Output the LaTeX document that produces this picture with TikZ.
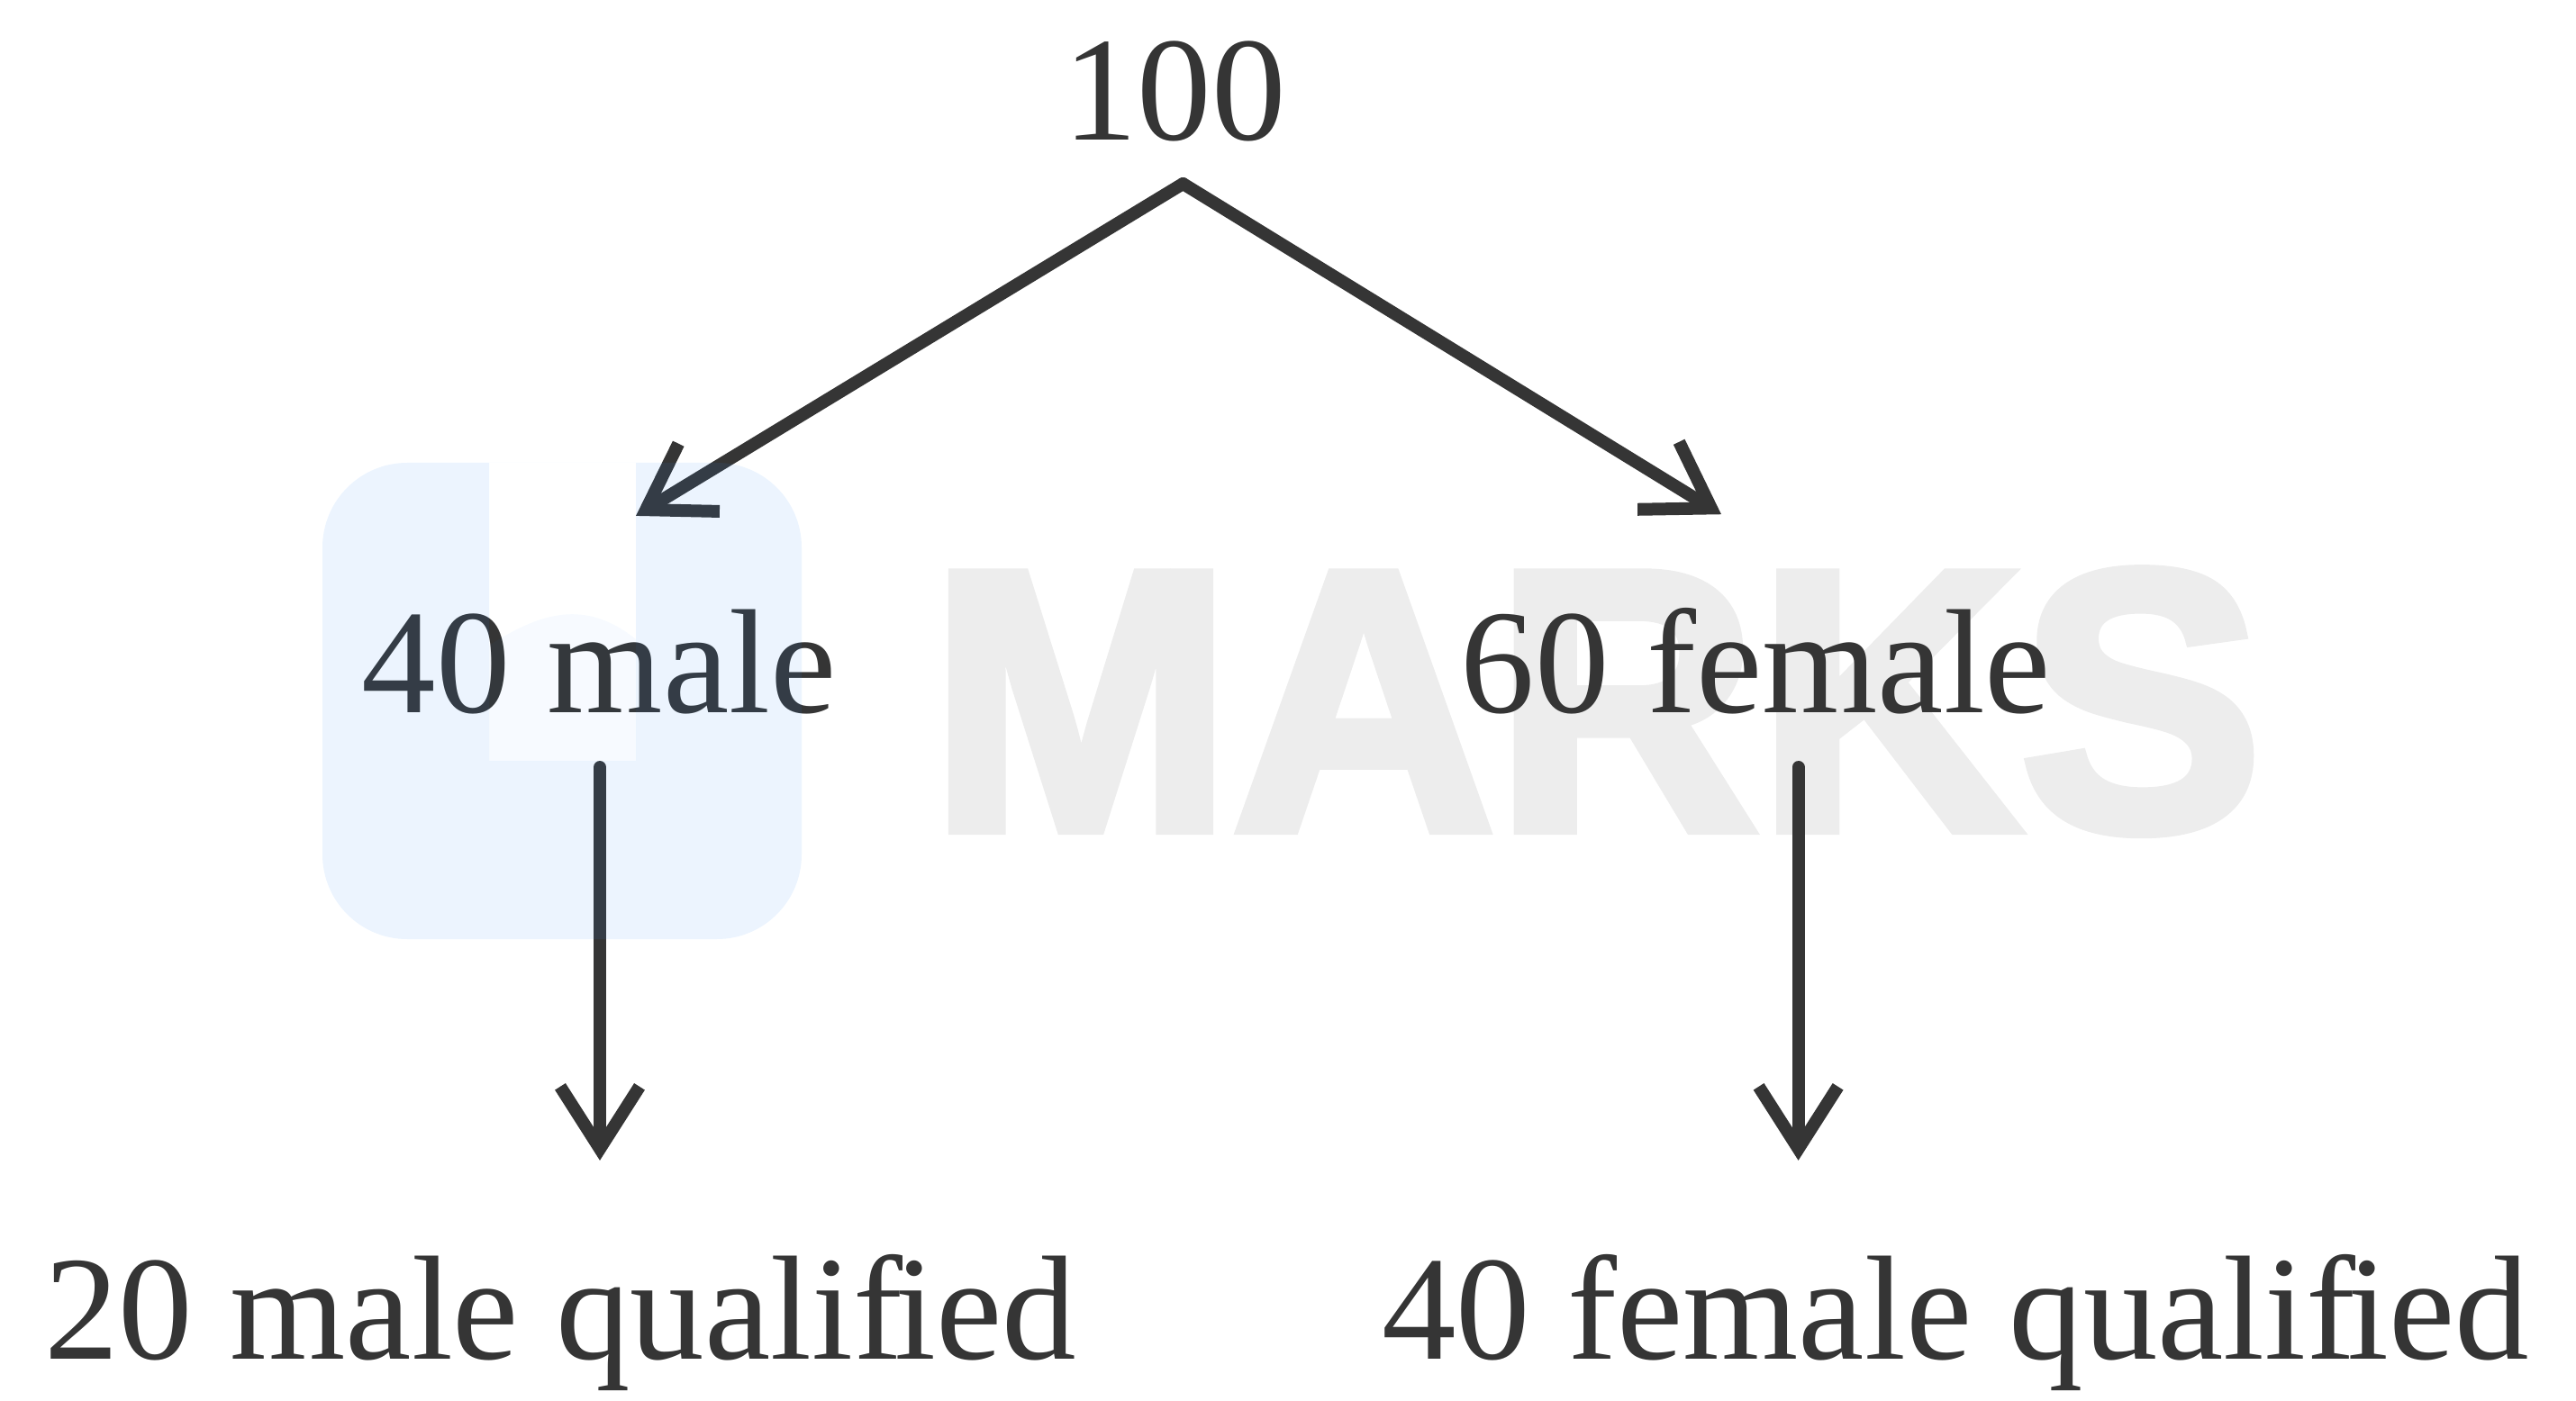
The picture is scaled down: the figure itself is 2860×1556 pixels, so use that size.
\documentclass[tikz,border=0pt]{standalone}
\usepackage{fontspec}
\setmainfont{Liberation Serif}
\newfontfamily\brandfont[BoldFeatures={FakeBold=3}]{Liberation Sans}
\usetikzlibrary{arrows.meta}
\definecolor{ink}{HTML}{353535}
\definecolor{logoblue}{HTML}{2A8AF5}
\definecolor{brandgrey}{HTML}{EDEDED}
% f and i close up as in a ligature
\XeTeXinterchartokenstate=1
\newXeTeXintercharclass\fclass
\newXeTeXintercharclass\iclass
\XeTeXcharclass`f=\fclass
\XeTeXcharclass`i=\iclass
\XeTeXinterchartoks\fclass\iclass={\kern-.055em}
\tikzstyle{bag} = [anchor=base, inner sep=0pt, text=ink, font=\fontsize{82.5}{90}\selectfont]
\tikzstyle{brandword} = [anchor=base, inner sep=0pt, text=brandgrey, font=\fontsize{206}{215}\brandfont\bfseries]
\tikzstyle{link} = [draw=ink, line width=7pt, line cap=round, -{Straight Barb[length=34.5pt, width=44pt]}]

\begin{document}
\begin{tikzpicture}[x=0.5pt, y=-0.5pt]
		\useasboundingbox (0,0) rectangle (2860,1556);

		\node[brandword] (brand) at (1772,921) {\scalebox{0.98}[1]{MARKS}};

		\node[bag] (total) at (1304,156) {100};
		\node[bag] (male) at (665,791) {40 male};
		\node[bag] (female) at (1949.5,791) {60 female};
		\node[bag] (malepass) at (622,1509) {20 male qualified};
		\node[bag] (femalepass) at (2171,1509) {40 female qualified};

		\draw[link] ([xshift=4.7pt,yshift=-23pt]total.south) -- ([xshift=20.5pt,yshift=51.6pt]male.north);
		\draw[link] ([xshift=4.7pt,yshift=-23pt]total.south) -- ([xshift=-19.25pt,yshift=51.6pt]female.north);
		\draw[link] ([xshift=0.5pt,yshift=-29.5pt]male.south) -- ([xshift=22pt,yshift=51.8pt]malepass.north);
		\draw[link] ([xshift=23.55pt,yshift=-29.5pt]female.south) -- ([xshift=-87.2pt,yshift=51.8pt]femalepass.north);

		% logo lies over the drawing
		\fill[logoblue, opacity=0.09, even odd rule, rounded corners=47pt] (358,514) rectangle (890,1043)
			[sharp corners] (543,514) -- (706,514) -- (706,845) -- (543,845) -- cycle;
		\fill[logoblue, opacity=0.04] (543,717) .. controls (600,680) and (650,665) .. (706,710) -- (706,845) -- (543,845) -- cycle;
\end{tikzpicture}
\end{document}
